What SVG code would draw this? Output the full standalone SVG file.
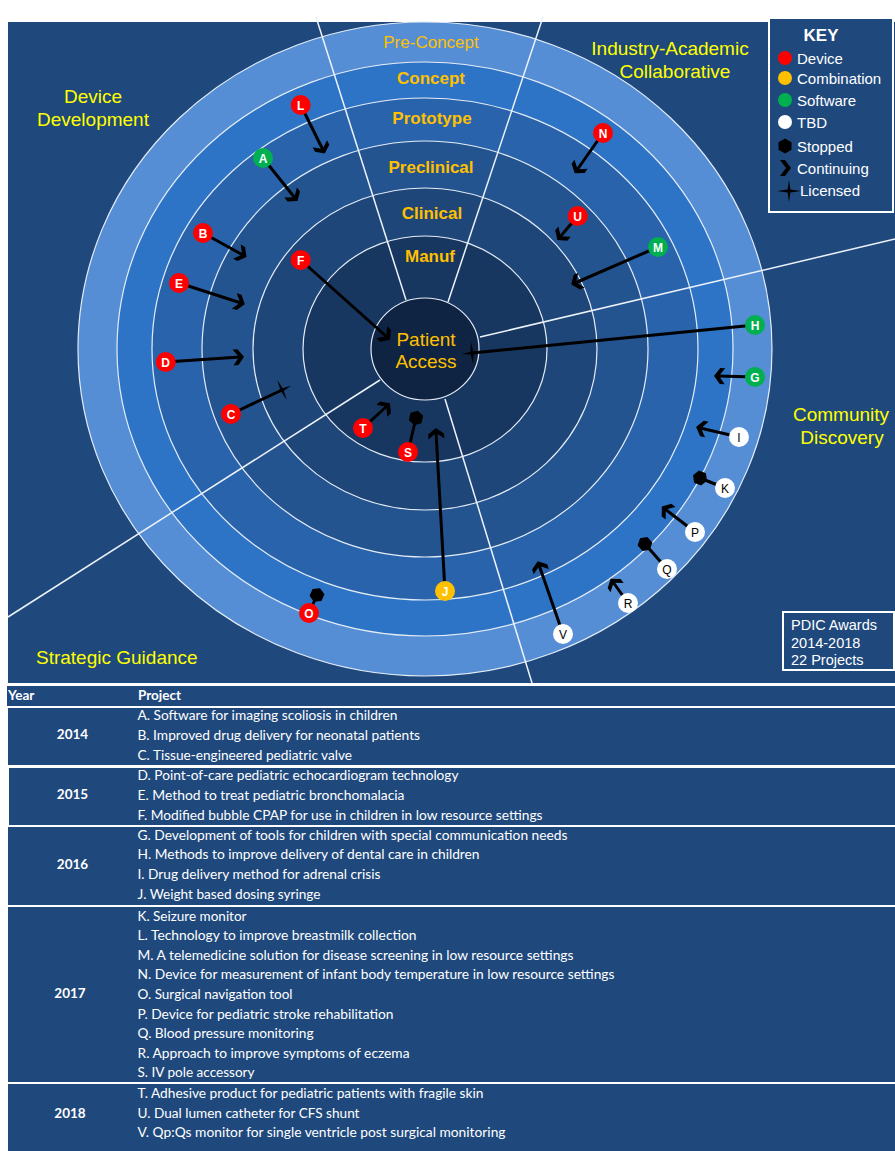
<svg xmlns="http://www.w3.org/2000/svg" width="895" height="1151" viewBox="0 0 895 1151">
<style>
.bg{fill:#1F497D}
.ring{stroke:#e4ecf6;stroke-width:1.2}
.rad{stroke:#eef3fa;stroke-width:1.5;fill:none}
.stage{font-family:"Liberation Sans",Arial,sans-serif;font-size:17px;font-weight:bold;fill:#FFC000;text-anchor:middle}
.sector{font-family:"Liberation Sans",Arial,sans-serif;font-size:19px;fill:#FFFF00;text-anchor:middle}
.conn{stroke:#000;stroke-width:3;fill:none}
.nl{font-family:"Liberation Sans",Arial,sans-serif;font-size:12px;font-weight:bold;fill:#fff;text-anchor:middle}
.nd{font-family:"Liberation Sans",Arial,sans-serif;font-size:12px;fill:#000;text-anchor:middle}
.key{font-family:"Liberation Sans",Arial,sans-serif;font-size:15px;fill:#fff}
.box{fill:none;stroke:#fff;stroke-width:2}
.tb{font-family:Lato,"Open Sans",sans-serif;font-size:13.5px;fill:#fff}
.yr{font-family:Lato,"Open Sans",sans-serif;font-size:13.5px;font-weight:bold;fill:#fff;text-anchor:middle}
.hd{font-family:Lato,"Open Sans",sans-serif;font-size:13.5px;font-weight:bold;fill:#fff}
.red{fill:#FF0000}.grn{fill:#00B050}.org{fill:#FFC000}.wht{fill:#FFFFFF}
</style>
<defs>
<marker id="chev" markerUnits="userSpaceOnUse" orient="auto" markerWidth="12" markerHeight="17" refX="7" refY="8" overflow="visible">
<path d="M0,0 L5,0 L11,8 L5,16 L0,16 L6,8 Z" fill="#000"/>
</marker>
<marker id="hex" markerUnits="userSpaceOnUse" orient="auto" markerWidth="16" markerHeight="16" refX="7.5" refY="7.5" overflow="visible">
<path d="M0,7.5 L3.75,1 L11.25,1 L15,7.5 L11.25,14 L3.75,14 Z" fill="#000"/>
</marker>
<marker id="star" markerUnits="userSpaceOnUse" orient="auto" markerWidth="22" markerHeight="22" refX="11" refY="11" overflow="visible">
<path d="M1,11 L9.6,9.6 L11,0 L12.4,9.6 L21,11 L12.4,12.4 L11,22 L9.6,12.4 Z" fill="#000"/>
</marker>
</defs>
<rect x="0" y="0" width="895" height="1151" fill="#fff"/>
<rect class="bg" x="8" y="22" width="887" height="661"/>
<g id="rings">
<ellipse class="ring" cx="425" cy="349" rx="347" ry="327" fill="#558ED5"/>
<ellipse class="ring" cx="425" cy="349" rx="308" ry="287" fill="#2E74C6"/>
<ellipse class="ring" cx="425" cy="349" rx="273" ry="251" fill="#2963AC"/>
<ellipse class="ring" cx="425" cy="349" rx="223" ry="208" fill="#24548F"/>
<ellipse class="ring" cx="425" cy="349" rx="172" ry="161" fill="#1E4678"/>
<ellipse class="ring" cx="425" cy="349" rx="122" ry="113" fill="#183760"/>
<ellipse class="ring" cx="425" cy="349" rx="54" ry="51" fill="#0F2442"/>
</g>
<g id="dividers">
<line class="rad" x1="406" y1="300" x2="316" y2="17"/>
<line class="rad" x1="448" y1="302" x2="543" y2="17"/>
<line class="rad" x1="480" y1="337" x2="895" y2="239"/>
<line class="rad" x1="380" y1="380" x2="8" y2="617"/>
<line class="rad" x1="445" y1="399" x2="532" y2="683"/>
</g>
<g id="stage-labels">
<text class="stage" x="431" y="48" style="font-weight:normal">Pre-Concept</text>
<text class="stage" x="431" y="84">Concept</text>
<text class="stage" x="432" y="124">Prototype</text>
<text class="stage" x="431" y="173">Preclinical</text>
<text class="stage" x="432" y="219">Clinical</text>
<text class="stage" x="430" y="262">Manuf</text>
</g>
<g id="patient-access">
<text class="stage" x="426" y="346" style="font-weight:normal;font-size:19px">Patient</text>
<text class="stage" x="426" y="368" style="font-weight:normal;font-size:19px">Access</text>
</g>
<g id="sector-labels">
<text class="sector" x="93" y="103">Device</text>
<text class="sector" x="93" y="126">Development</text>
<text class="sector" x="670" y="55">Industry-Academic</text>
<text class="sector" x="675" y="78">Collaborative</text>
<text class="sector" x="841" y="421">Community</text>
<text class="sector" x="842" y="444">Discovery</text>
<text class="sector" x="36" y="664" style="text-anchor:start">Strategic  Guidance</text>
</g>
<g id="connectors">
<line class="conn" x1="300.7" y1="105" x2="323" y2="150" marker-end="url(#chev)"/>
<line class="conn" x1="263" y1="158" x2="295" y2="198" marker-end="url(#chev)"/>
<line class="conn" x1="203" y1="233" x2="243" y2="255" marker-end="url(#chev)"/>
<line class="conn" x1="179" y1="283" x2="241" y2="303" marker-end="url(#chev)"/>
<line class="conn" x1="300.7" y1="260" x2="387" y2="337" marker-end="url(#chev)"/>
<line class="conn" x1="165.7" y1="362" x2="240" y2="357" marker-end="url(#chev)"/>
<line class="conn" x1="231" y1="414" x2="282" y2="390" marker-end="url(#star)"/>
<line class="conn" x1="363" y1="428" x2="387" y2="406" marker-end="url(#chev)"/>
<line class="conn" x1="408" y1="452" x2="416" y2="418" marker-end="url(#hex)"/>
<line class="conn" x1="445" y1="591" x2="436" y2="432" marker-end="url(#chev)"/>
<line class="conn" x1="309" y1="613" x2="317" y2="595" marker-end="url(#hex)"/>
<line class="conn" x1="603" y1="133" x2="577" y2="170" marker-end="url(#chev)"/>
<line class="conn" x1="577.7" y1="216" x2="560" y2="237" marker-end="url(#chev)"/>
<line class="conn" x1="658" y1="247" x2="575" y2="283" marker-end="url(#chev)"/>
<line class="conn" x1="755" y1="325" x2="472" y2="353" marker-end="url(#star)"/>
<line class="conn" x1="755" y1="377" x2="718" y2="376" marker-end="url(#chev)"/>
<line class="conn" x1="739" y1="437" x2="700" y2="428" marker-end="url(#chev)"/>
<line class="conn" x1="725" y1="488" x2="700" y2="478" marker-end="url(#hex)"/>
<line class="conn" x1="695" y1="532" x2="665" y2="509" marker-end="url(#chev)"/>
<line class="conn" x1="667" y1="569" x2="645" y2="544" marker-end="url(#hex)"/>
<line class="conn" x1="628" y1="603" x2="613" y2="582" marker-end="url(#chev)"/>
<line class="conn" x1="563" y1="634" x2="539" y2="565" marker-end="url(#chev)"/>
</g>
<g id="node-A"><circle class="grn" cx="263" cy="158" r="10"/><text class="nl" x="263" y="162.5">A</text></g>
<g id="node-B"><circle class="red" cx="203" cy="233" r="10"/><text class="nl" x="203" y="237.5">B</text></g>
<g id="node-C"><circle class="red" cx="231" cy="414" r="10"/><text class="nl" x="231" y="418.5">C</text></g>
<g id="node-D"><circle class="red" cx="165.7" cy="362" r="10"/><text class="nl" x="165.7" y="366.5">D</text></g>
<g id="node-E"><circle class="red" cx="179" cy="283" r="10"/><text class="nl" x="179" y="287.5">E</text></g>
<g id="node-F"><circle class="red" cx="300.7" cy="260" r="10"/><text class="nl" x="300.7" y="264.5">F</text></g>
<g id="node-G"><circle class="grn" cx="755" cy="377" r="10"/><text class="nl" x="755" y="381.5">G</text></g>
<g id="node-H"><circle class="grn" cx="755" cy="325" r="10"/><text class="nl" x="755" y="329.5">H</text></g>
<g id="node-I"><circle class="wht" cx="739" cy="437" r="10"/><text class="nd" x="739" y="441.5">I</text></g>
<g id="node-J"><circle class="org" cx="445" cy="591" r="10"/><text class="nl" x="445" y="595.5">J</text></g>
<g id="node-K"><circle class="wht" cx="725" cy="488" r="10"/><text class="nd" x="725" y="492.5">K</text></g>
<g id="node-L"><circle class="red" cx="300.7" cy="105" r="10"/><text class="nl" x="300.7" y="109.5">L</text></g>
<g id="node-M"><circle class="grn" cx="658" cy="247" r="10"/><text class="nl" x="658" y="251.5">M</text></g>
<g id="node-N"><circle class="red" cx="603" cy="133" r="10"/><text class="nl" x="603" y="137.5">N</text></g>
<g id="node-O"><circle class="red" cx="309" cy="613" r="10"/><text class="nl" x="309" y="617.5">O</text></g>
<g id="node-P"><circle class="wht" cx="695" cy="532" r="10"/><text class="nd" x="695" y="536.5">P</text></g>
<g id="node-Q"><circle class="wht" cx="667" cy="569" r="10"/><text class="nd" x="667" y="573.5">Q</text></g>
<g id="node-R"><circle class="wht" cx="628" cy="603" r="10"/><text class="nd" x="628" y="607.5">R</text></g>
<g id="node-S"><circle class="red" cx="408" cy="452" r="10"/><text class="nl" x="408" y="456.5">S</text></g>
<g id="node-T"><circle class="red" cx="363" cy="428" r="10"/><text class="nl" x="363" y="432.5">T</text></g>
<g id="node-U"><circle class="red" cx="577.7" cy="216" r="10"/><text class="nl" x="577.7" y="220.5">U</text></g>
<g id="node-V"><circle class="wht" cx="563" cy="634" r="10"/><text class="nd" x="563" y="638.5">V</text></g>
<g id="key">
<rect class="bg" x="769" y="18" width="124" height="194"/>
<rect class="box" x="769" y="18" width="124" height="194"/>
<text class="key" x="821" y="41" style="font-weight:bold;font-size:17px;text-anchor:middle">KEY</text>
<circle class="red" cx="785" cy="58" r="7"/><text class="key" x="797" y="64">Device</text>
<circle class="org" cx="785" cy="78" r="7"/><text class="key" x="797" y="84">Combination</text>
<circle class="grn" cx="785" cy="100" r="7"/><text class="key" x="797" y="106">Software</text>
<circle class="wht" cx="785" cy="122" r="7"/><text class="key" x="797" y="128">TBD</text>
<path d="M785,138.5 L791.5,142.25 L791.5,149.75 L785,153.5 L778.5,149.75 L778.5,142.25 Z" fill="#000"/><text class="key" x="797" y="152">Stopped</text>
<path d="M780,160 L785,160 L791,168 L785,176 L780,176 L786,168 Z" fill="#000"/><text class="key" x="797" y="174">Continuing</text>
<path d="M777,191 L787.6,189.6 L789,180 L790.4,189.6 L801,191 L790.4,192.4 L789,202 L787.6,192.4 Z" fill="#000"/><text class="key" x="800" y="196">Licensed</text>
</g>
<g id="awards">
<rect class="box" x="783" y="612" width="111" height="58"/>
<text class="key" x="791" y="630" style="font-size:14.5px">PDIC Awards</text>
<text class="key" x="791" y="648" style="font-size:14.5px">2014-2018</text>
<text class="key" x="791" y="665" style="font-size:14.5px">22 Projects</text>
</g>
<g id="table">
<rect class="bg" x="7" y="686" width="888" height="20"/>
<rect class="bg" x="8" y="708" width="887" height="57"/>
<rect class="bg" x="9" y="768" width="886" height="57"/>
<rect class="bg" x="8" y="827" width="887" height="78"/>
<rect class="bg" x="8" y="907" width="887" height="175"/>
<rect class="bg" x="8" y="1084" width="887" height="67"/>
<text class="hd" x="8" y="700">Year</text>
<text class="hd" x="138" y="700">Project</text>
<text class="yr" x="72.5" y="739">2014</text>
<text class="yr" x="72.5" y="799">2015</text>
<text class="yr" x="72.5" y="869">2016</text>
<text class="yr" x="70" y="998">2017</text>
<text class="yr" x="70" y="1118">2018</text>
<text class="tb" x="137.5" y="720" textLength="260" lengthAdjust="spacingAndGlyphs">A. Software for imaging scoliosis in children</text>
<text class="tb" x="137.5" y="739.5" textLength="282.5" lengthAdjust="spacingAndGlyphs">B. Improved drug delivery for neonatal patients</text>
<text class="tb" x="137.5" y="760" textLength="214.5" lengthAdjust="spacingAndGlyphs">C. Tissue-engineered pediatric valve</text>
<text class="tb" x="137.5" y="779.5" textLength="321" lengthAdjust="spacingAndGlyphs">D. Point-of-care pediatric echocardiogram technology</text>
<text class="tb" x="137.5" y="799.5" textLength="267" lengthAdjust="spacingAndGlyphs">E. Method to treat pediatric bronchomalacia</text>
<text class="tb" x="137.5" y="820" textLength="405" lengthAdjust="spacingAndGlyphs">F. Modified bubble CPAP for use in children in low resource settings</text>
<text class="tb" x="137.5" y="839.5" textLength="430" lengthAdjust="spacingAndGlyphs">G. Development of tools for children with special communication needs</text>
<text class="tb" x="137.5" y="859" textLength="342" lengthAdjust="spacingAndGlyphs">H. Methods to improve delivery of dental care in children</text>
<text class="tb" x="137.5" y="879" textLength="243" lengthAdjust="spacingAndGlyphs">I. Drug delivery method for adrenal crisis</text>
<text class="tb" x="137.5" y="899" textLength="183" lengthAdjust="spacingAndGlyphs">J. Weight based dosing syringe</text>
<text class="tb" x="137.5" y="920.5" textLength="109" lengthAdjust="spacingAndGlyphs">K. Seizure monitor</text>
<text class="tb" x="137.5" y="940" textLength="279" lengthAdjust="spacingAndGlyphs">L. Technology to improve breastmilk collection</text>
<text class="tb" x="137.5" y="959.5" textLength="436" lengthAdjust="spacingAndGlyphs">M. A telemedicine solution for disease screening in low resource settings</text>
<text class="tb" x="137.5" y="979" textLength="477" lengthAdjust="spacingAndGlyphs">N. Device for measurement of infant body temperature in low resource settings</text>
<text class="tb" x="137.5" y="999" textLength="155" lengthAdjust="spacingAndGlyphs">O. Surgical navigation tool</text>
<text class="tb" x="137.5" y="1018.5" textLength="256" lengthAdjust="spacingAndGlyphs">P. Device for pediatric stroke rehabilitation</text>
<text class="tb" x="137.5" y="1038" textLength="176" lengthAdjust="spacingAndGlyphs">Q. Blood pressure monitoring</text>
<text class="tb" x="137.5" y="1057.5" textLength="272" lengthAdjust="spacingAndGlyphs">R. Approach to improve symptoms of eczema</text>
<text class="tb" x="137.5" y="1077" textLength="117" lengthAdjust="spacingAndGlyphs">S. IV pole accessory</text>
<text class="tb" x="137.5" y="1098" textLength="346" lengthAdjust="spacingAndGlyphs">T. Adhesive product for pediatric patients with fragile skin</text>
<text class="tb" x="137.5" y="1117.5" textLength="222" lengthAdjust="spacingAndGlyphs">U. Dual lumen catheter for CFS shunt</text>
<text class="tb" x="137.5" y="1137" textLength="368" lengthAdjust="spacingAndGlyphs">V. Qp:Qs monitor for single ventricle post surgical monitoring</text>
</g>
</svg>
